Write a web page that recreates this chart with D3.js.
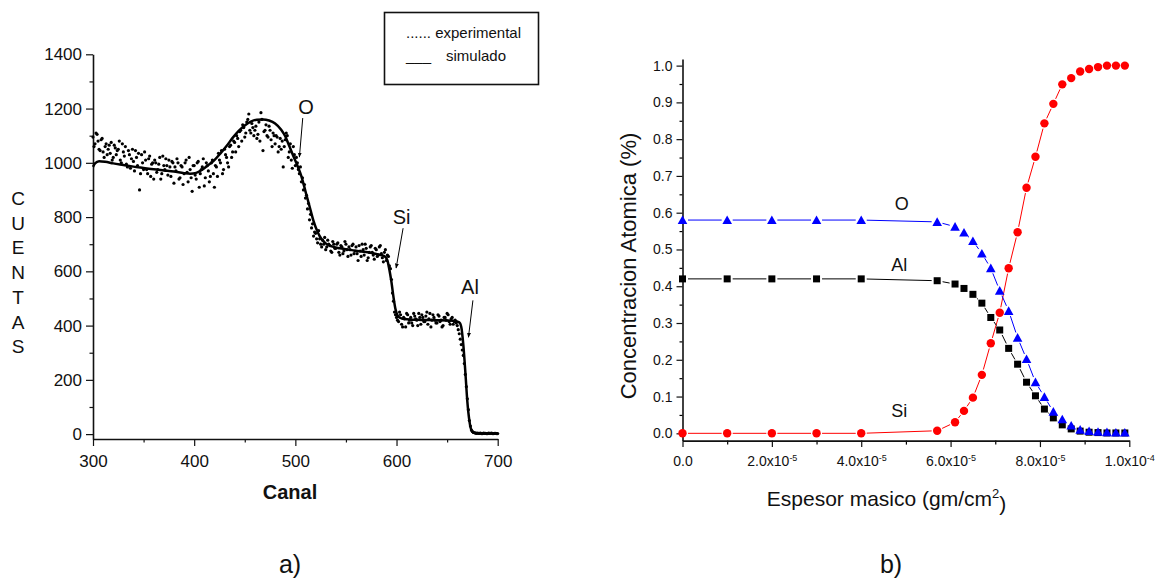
<!DOCTYPE html>
<html><head><meta charset="utf-8">
<script src="https://cdnjs.cloudflare.com/ajax/libs/d3/7.8.5/d3.min.js"></script>
<style>
html,body{margin:0;padding:0;background:#fff;}
svg{display:block;font-family:"Liberation Sans",Arial,Helvetica,sans-serif;}
</style></head><body>
<svg id="fig" width="1157" height="582"></svg>
<script>
// ---------- Panel a: RBS spectrum ----------
// measured counts on even channels 300, 302, ..., 700
const expCountsEven = [
  1095,1070,1105,1050,1085,1040,1060,1030,1065,1075,
  1020,1055,1045,1080,1000,1040,1060,985,1030,1015,
  1005,1045,990,900,1030,975,1010,960,1025,995,
  940,1000,975,1020,960,990,1015,955,985,1005,
  925,970,1000,945,985,960,1010,930,975,895,
  990,940,1005,960,985,915,1000,970,950,1010,
  910,985,1035,1000,960,1050,1020,985,1065,1040,
  1075,1100,1060,1120,1140,1095,1150,1180,1110,1130,
  1120,1090,1150,1185,1045,1120,1100,1135,1085,1110,
  1070,1095,1060,1050,985,1085,1100,1040,1010,1060,
  990,1000,960,930,900,870,830,790,760,730,
  740,705,720,690,700,680,715,695,670,700,
  685,705,660,690,675,700,655,680,695,665,
  690,640,675,700,660,685,650,690,670,645,
  680,660,695,650,670,640,655,610,520,450,
  430,415,440,395,425,445,410,430,400,435,
  420,445,405,430,415,450,425,395,440,420,
  410,435,420,400,430,445,415,425,405,420,
  400,370,330,290,220,130,50,15,6,4,
  4,3,2,4,3,2,3,4,2,3,
  2
];
// measured counts on odd channels 301, 303, ..., 699
const expCountsOdd = [
  1060,1110,1080,1045,1090,1020,1070,1050,1035,1010,
  1065,1030,1050,1010,1070,1025,995,1045,980,1050,
  970,1020,1035,960,1000,1040,975,1015,950,1000,
  1010,965,995,940,1025,975,990,1010,950,1000,
  985,1015,940,990,920,1000,965,1020,945,990,
  955,1000,910,975,1015,945,990,930,1000,960,
  990,950,1010,1045,975,1030,1000,1060,1020,1080,
  1040,1090,1115,1080,1130,1110,1160,1120,1145,1100,
  1135,1105,1080,1160,1115,1140,1095,1120,1060,1100,
  1100,1040,1090,1080,1060,1110,1020,1070,980,1030,
  1020,975,985,945,920,880,850,810,775,745,
  720,750,700,715,725,690,700,675,710,685,
  700,670,695,665,710,680,690,660,700,675,
  665,695,655,680,700,640,670,695,660,685,
  655,690,665,635,680,660,620,570,490,440,
  420,450,405,430,395,440,420,410,445,425,
  400,430,440,415,435,405,445,420,430,410,
  440,415,395,430,420,440,405,430,415,410,
  385,350,310,260,175,90,30,10,5,3,
  3,4,2,3,2,4,3,2,3,2
];
const simChannels = [300,302,306,312,320,330,340,350,360,370,380,390,396,402,408,414,420,426,432,438,444,450,456,462,468,474,480,486,490,494,498,502,506,510,514,518,522,526,530,536,544,552,560,570,580,588,591,593,595,597,599,601,604,608,614,624,640,656,662,664,666,668,670,672,674,676,680,690,700];
const simCounts = [985,998,1006,1004,998,992,986,981,976,972,968,962,960,963,975,992,1010,1035,1062,1092,1118,1138,1152,1159,1160,1156,1145,1122,1098,1062,1025,990,950,895,840,785,745,718,703,692,685,680,676,671,664,656,640,605,560,505,460,438,428,424,422,421,420,418,412,395,330,230,120,50,15,6,3,2,2];
const countTicks = [0,200,400,600,800,1000,1200,1400];
const countMinorTicks = [100,300,500,700,900,1100,1300];
const channelTicks = [300,400,500,600,700];
const channelMinorTicks = [350,450,550,650];
const yLetters = ["C","U","E","N","T","A","S"];
const peakLabels = ["O","Si","Al"];
const peakLabelChannel = [510.6,605,672.6];
const peakLabelCount = [1205,802,543];
const peakArrowFrom = [[507.3,1165],[606.5,759],[675.5,493]];
const peakArrowTo = [[504,1021],[599.6,612],[671.1,357]];

// ---------- Panel b: depth profile ----------
const thickness = [0,1e-5,2e-5,3e-5,4e-5,5.7e-5,6.1e-5,6.3e-5,6.5e-5,6.7e-5,6.9e-5,7.1e-5,7.3e-5,7.5e-5,7.7e-5,7.9e-5,8.1e-5,8.3e-5,8.5e-5,8.7e-5,8.9e-5,9.1e-5,9.3e-5,9.5e-5,9.7e-5,9.9e-5];
const concO  = [0.58,0.58,0.58,0.58,0.58,0.575,0.562,0.546,0.523,0.489,0.449,0.388,0.333,0.260,0.202,0.139,0.099,0.059,0.038,0.021,0.010,0.006,0.004,0.003,0.002,0.002];
const concAl = [0.42,0.42,0.42,0.42,0.42,0.415,0.406,0.394,0.378,0.354,0.315,0.281,0.231,0.188,0.139,0.102,0.066,0.042,0.023,0.012,0.006,0.003,0.002,0.001,0.001,0.001];
const concSi = [0,0,0,0,0,0.007,0.030,0.061,0.097,0.159,0.245,0.328,0.449,0.547,0.668,0.752,0.843,0.896,0.949,0.966,0.984,0.991,0.996,1.0,1.0,1.0];
const concTicks = [0,0.1,0.2,0.3,0.4,0.5,0.6,0.7,0.8,0.9,1.0];
const concMinorTicks = [0.05,0.15,0.25,0.35,0.45,0.55,0.65,0.75,0.85,0.95];
const thicknessTicks = [0,2e-5,4e-5,6e-5,8e-5,1e-4];
const thicknessMinorTicks = [1e-5,3e-5,5e-5,7e-5,9e-5];
const thicknessTickMantissa = ["0.0","2.0x10","4.0x10","6.0x10","8.0x10","1.0x10"];
const thicknessTickExponent = ["","-5","-5","-5","-5","-4"];
const elementNames = ["O","Al","Si"];
const elementLabelX = [4.906e-5,4.852e-5,4.852e-5];
const elementLabelY = [0.626,0.458,0.063];

const svg = d3.select("#fig");
svg.append("rect").attr("width",1157).attr("height",582).attr("fill","#fff");

function styleAxis(g, fontSize, domainWidth) {
  g.select(".domain").attr("stroke","#111").attr("stroke-width",domainWidth);
  g.selectAll(".tick line").attr("stroke","#111").attr("stroke-width",1.2);
  g.selectAll(".tick text").attr("fill","#111").attr("font-size",fontSize)
    .attr("font-family","'Liberation Sans',Arial,sans-serif");
}

// ===== Panel a =====
const xA = d3.scaleLinear().domain([300,700]).range([93,497.7]);
const yA = d3.scaleLinear().domain([-18,1400]).range([439,54.3]);
const gA = svg.append("g");

// minor ticks
gA.append("g").attr("transform",`translate(0,${yA.range()[0]})`)
  .call(d3.axisBottom(xA).tickValues(channelMinorTicks).tickSize(3.5).tickFormat(""))
  .call(g=>{g.select(".domain").remove(); g.selectAll("line").attr("stroke","#111").attr("stroke-width",1.2);});
gA.append("g").attr("transform",`translate(${xA.range()[0]},0)`)
  .call(d3.axisLeft(yA).tickValues(countMinorTicks).tickSize(3.5).tickFormat(""))
  .call(g=>{g.select(".domain").remove(); g.selectAll("line").attr("stroke","#111").attr("stroke-width",1.2);});
// major axes
gA.append("g").attr("transform",`translate(0,${yA.range()[0]})`)
  .call(d3.axisBottom(xA).tickValues(channelTicks).tickSize(7).tickSizeOuter(0).tickPadding(9).tickFormat(d3.format("d")))
  .call(g=>styleAxis(g,17,1.6));
gA.append("g").attr("transform",`translate(${xA.range()[0]},0)`)
  .call(d3.axisLeft(yA).tickValues(countTicks).tickSize(7).tickSizeOuter(0).tickPadding(4).tickFormat(d3.format("d")))
  .call(g=>styleAxis(g,17,1.6));

// experimental points
const expPoints = expCountsEven.map((v,i)=>[300+2*i,v])
  .concat(expCountsOdd.map((v,i)=>[301+2*i,v]));
gA.append("g").selectAll("circle").data(expPoints).join("circle")
  .attr("cx",d=>xA(d[0])).attr("cy",d=>yA(d[1])).attr("r",1.6).attr("fill","#000");

// simulated spectrum
gA.append("path").datum(simChannels.map((c,i)=>[c,simCounts[i]]))
  .attr("fill","none").attr("stroke","#000").attr("stroke-width",2.5)
  .attr("stroke-linejoin","round")
  .attr("d",d3.line().x(d=>xA(d[0])).y(d=>yA(d[1])).curve(d3.curveMonotoneX));

// edge annotations with arrows
svg.append("defs").append("marker").attr("id","arrowHead")
  .attr("viewBox","0 0 10 10").attr("refX",9).attr("refY",5)
  .attr("markerWidth",5).attr("markerHeight",7).attr("orient","auto")
  .append("path").attr("d","M0,1 L10,5 L0,9 Z").attr("fill","#000");
peakLabels.forEach((lab,i)=>{
  gA.append("text").attr("x",xA(peakLabelChannel[i])).attr("y",yA(peakLabelCount[i])+7)
    .attr("text-anchor","middle").attr("font-size",20).attr("fill","#111").text(lab);
  gA.append("line")
    .attr("x1",xA(peakArrowFrom[i][0])).attr("y1",yA(peakArrowFrom[i][1]))
    .attr("x2",xA(peakArrowTo[i][0])).attr("y2",yA(peakArrowTo[i][1]))
    .attr("stroke","#000").attr("stroke-width",1).attr("marker-end","url(#arrowHead)");
});

// vertical y title
yLetters.forEach((ch,i)=>{
  gA.append("text").attr("x",18).attr("y",205+i*24.7)
    .attr("text-anchor","middle").attr("font-size",19).attr("fill","#111").text(ch);
});
gA.append("text").attr("x",290).attr("y",499).attr("text-anchor","middle")
  .attr("font-size",20).attr("font-weight","bold").attr("fill","#111").text("Canal");
gA.append("text").attr("x",290).attr("y",573).attr("text-anchor","middle")
  .attr("font-size",25).attr("fill","#111").text("a)");

// legend
const leg = gA.append("g");
leg.append("rect").attr("x",384.5).attr("y",12.5).attr("width",154).attr("height",72)
  .attr("fill","#fff").attr("stroke","#111").attr("stroke-width",1.6);
leg.append("text").attr("x",406).attr("y",38).attr("font-size",15).attr("fill","#111")
  .text("...... experimental");
leg.append("text").attr("x",406).attr("y",61).attr("font-size",15).attr("fill","#111")
  .text("___");
leg.append("text").attr("x",446).attr("y",61).attr("font-size",15).attr("fill","#111")
  .text("simulado");

// ===== Panel b =====
const xB = d3.scaleLinear().domain([0,1e-4]).range([682.5,1129.3]);
const yB = d3.scaleLinear().domain([-0.0198,1.018]).range([440.6,59]);
const gB = svg.append("g");

gB.append("g").attr("transform",`translate(0,${yB.range()[0]})`)
  .call(d3.axisBottom(xB).tickValues(thicknessMinorTicks).tickSize(4).tickFormat(""))
  .call(g=>{g.select(".domain").remove(); g.selectAll("line").attr("stroke","#000").attr("stroke-width",1.2);});
gB.append("g").attr("transform",`translate(${xB.range()[0]},0)`)
  .call(d3.axisLeft(yB).tickValues(concMinorTicks).tickSize(3).tickFormat(""))
  .call(g=>{g.select(".domain").remove(); g.selectAll("line").attr("stroke","#000").attr("stroke-width",1.2);});

const xAxisB = gB.append("g").attr("transform",`translate(0,${yB.range()[0]})`)
  .call(d3.axisBottom(xB).tickValues(thicknessTicks).tickSize(6.5).tickSizeOuter(0).tickPadding(8.5)
    .tickFormat((d,i)=>thicknessTickMantissa[i]))
  .call(g=>styleAxis(g,14,1.6));
xAxisB.selectAll(".tick text").each(function(d,i){
  const t = d3.select(this);
  t.text(thicknessTickMantissa[i]);
  if (thicknessTickExponent[i]) {
    t.append("tspan").attr("dy","-0.55em").attr("font-size",9).text(thicknessTickExponent[i]);
  }
});
gB.append("g").attr("transform",`translate(${xB.range()[0]},0)`)
  .call(d3.axisLeft(yB).tickValues(concTicks).tickSize(6).tickSizeOuter(0).tickPadding(4)
    .tickFormat(d3.format(".1f")))
  .call(g=>styleAxis(g,14,1.6));

function drawSeries(values, color, shape) {
  const pts = thickness.map((t,i)=>[xB(t), yB(values[i])]);
  const gap = 5.5;
  const lines = gB.append("g");
  for (let i=0;i<pts.length-1;i++){
    const [x0,y0]=pts[i],[x1,y1]=pts[i+1];
    const dx=x1-x0, dy=y1-y0, len=Math.hypot(dx,dy);
    if (len<=2*gap) continue;
    const ux=dx/len, uy=dy/len;
    lines.append("line")
      .attr("x1",x0+ux*gap).attr("y1",y0+uy*gap)
      .attr("x2",x1-ux*gap).attr("y2",y1-uy*gap)
      .attr("stroke",color).attr("stroke-width",1);
  }
  const mk = gB.append("g").attr("fill",color);
  pts.forEach(([x,y])=>{
    if (shape==="triangle") mk.append("path").attr("d",`M${x},${y-4.6} L${x+4.8},${y+4} L${x-4.8},${y+4} Z`);
    else if (shape==="square") mk.append("rect").attr("x",x-3.5).attr("y",y-3.5).attr("width",7).attr("height",7);
    else mk.append("circle").attr("cx",x).attr("cy",y).attr("r",4.2);
  });
}
drawSeries(concSi,"#ff0000","circle");
drawSeries(concAl,"#000000","square");
drawSeries(concO,"#0000ff","triangle");

elementNames.forEach((n,i)=>{
  gB.append("text").attr("x",xB(elementLabelX[i])).attr("y",yB(elementLabelY[i])+6.5)
    .attr("text-anchor","middle").attr("font-size",18).attr("fill","#111").text(n);
});

gB.append("text").attr("transform","translate(636,266) rotate(-90)")
  .attr("text-anchor","middle").attr("font-size",22).attr("fill","#111")
  .text("Concentracion Atomica (%)");
const xt = gB.append("text").attr("x",886.5).attr("y",506).attr("text-anchor","middle")
  .attr("font-size",21).attr("fill","#111");
xt.append("tspan").text("Espesor masico (gm/cm");
xt.append("tspan").attr("dy","-0.6em").attr("font-size",13).text("2");
xt.append("tspan").attr("dy","0.6em").text(")");
gB.append("text").attr("x",891).attr("y",573).attr("text-anchor","middle")
  .attr("font-size",25).attr("fill","#111").text("b)");
</script>
</body></html>
